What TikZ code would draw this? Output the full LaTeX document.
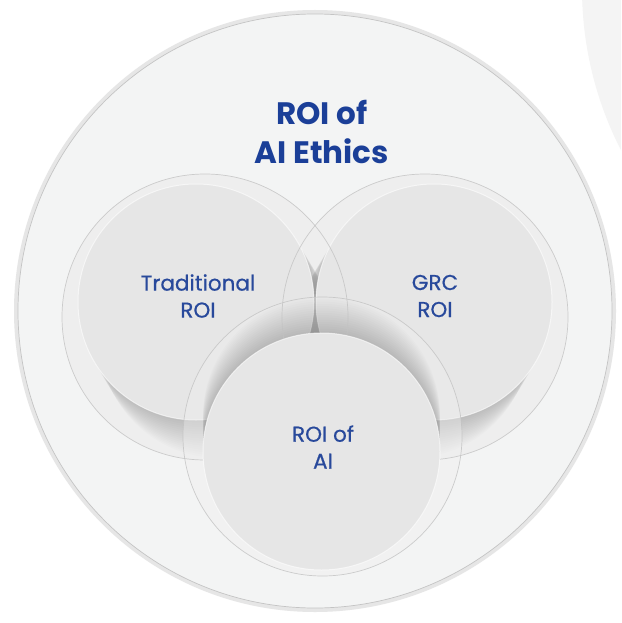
\documentclass[tikz,border=0pt]{standalone}
\usepackage{fontspec}
\setmainfont{Poppins}
\newfontfamily\labelfont[FakeBold=0.5]{Poppins}
\definecolor{bgtr}{HTML}{F4F4F4}
\definecolor{outerband}{HTML}{E6E6E6}
\definecolor{outerline}{HTML}{C4C4C4}
\definecolor{outerfill}{HTML}{F3F4F4}
\definecolor{ringfill}{HTML}{EEEEEE}
\definecolor{ringline}{HTML}{C2C2C2}
\definecolor{discfill}{HTML}{E6E6E6}
\definecolor{titleblue}{HTML}{1B3F98}
\definecolor{labelblue}{HTML}{28499B}
\tikzset{
  ringbase/.style={fill=ringfill},
  ringedge/.style={draw=ringline, line width=0.7pt, draw opacity=0.8},
  disctop/.style={fill=discfill, draw=white, draw opacity=0.6, line width=1pt},
  shadowlayer/.style={fill=black, fill opacity=0.012},
  titletext/.style={text=titleblue, font=\fontsize{31}{39}\selectfont\bfseries, align=center, inner sep=0pt},
  labeltext/.style={text=labelblue, font=\labelfont\fontsize{21.5}{27}\selectfont, align=center, inner sep=0pt}
}
\begin{document}
\begin{tikzpicture}[x=1pt,y=-1pt]
\useasboundingbox (0,0) rectangle (621,623);
\clip (0,0) rectangle (621,623);
\fill[white] (0,0) rectangle (621,623);
% faint background disc at top right
\fill[bgtr] (938,-12) circle (356pt);
% outer circle
\fill[outerband] (315,311) circle (301pt);
\fill[outerfill, draw=outerline, line width=0.7pt] (315,311) circle (297pt);
% rings of the two upper circles
\fill[ringbase] (205,317) circle (143pt);
\fill[ringbase] (425,317) circle (143pt);
% shadows
\begin{scope}
  \clip (205,317) circle (143pt);
  \foreach \k in {1,...,16} \fill[shadowlayer] ({196+\k*1.4},{302+\k*2.35}) circle (118pt);
\end{scope}
\begin{scope}
  \clip (425,317) circle (143pt);
  \foreach \k in {1,...,16} \fill[shadowlayer] ({434-\k*1.4},{302+\k*2.35}) circle (118pt);
\end{scope}
% upper discs
\path[disctop] (196,302) circle (118pt);
\path[disctop] (434,302) circle (118pt);
% lower ring
\fill[ringfill, fill opacity=0.4] (322.5,436.5) circle (139.5pt);
\begin{scope}
  \clip (322.5,436.5) circle (139.5pt);
  \foreach \k in {1,...,16} \fill[shadowlayer] (321.5,{451.5-\k*2.25}) circle (118.5pt);
\end{scope}
% ring outlines
\path[ringedge] (205,317) circle (143pt);
\path[ringedge] (425,317) circle (143pt);
% lower disc
\path[disctop] (321.5,451.5) circle (118.5pt);
\path[ringedge] (322.5,436.5) circle (139.5pt);
% texts
\node[titletext] (title) at (322,132) {ROI of\\AI Ethics};
\node[labeltext] (trad) at (198,296) {Traditional\\ROI};
\node[labeltext] (grc) at (435,296) {GRC\\ROI};
\node[labeltext] (ai) at (323,447) {ROI of\\AI};
\end{tikzpicture}
\end{document}
